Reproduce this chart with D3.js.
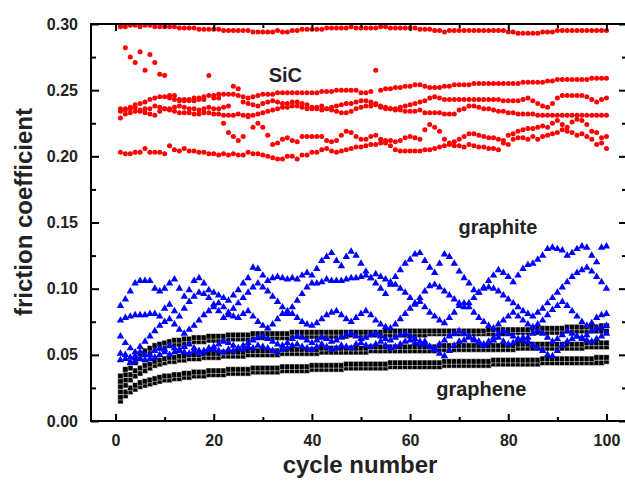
<!DOCTYPE html>
<html>
<head>
<meta charset="utf-8">
<script src="https://cdn.jsdelivr.net/npm/d3@7"></script>
<style>
  body { margin: 0; background: #fff; }
  text { font-family: "Liberation Sans", Arial, sans-serif; }
</style>
</head>
<body>
<svg id="chart" width="625" height="482"></svg>
<script>
// cycle numbers 1..100 (x values shared by every run)
const cycles = d3.range(1, 101);

// ---- SiC runs (red) ----
const sic1 = [
  0.299, 0.298, 0.299, 0.299, 0.298, 0.299, 0.299, 0.298, 0.298, 0.298,
  0.298, 0.298, 0.297, 0.297, 0.297, 0.297, 0.296, 0.296, 0.296, 0.296,
  0.296, 0.295, 0.295, 0.295, 0.295, 0.295, 0.295, 0.294, 0.294, 0.294,
  0.294, 0.294, 0.295, 0.294, 0.294, 0.295, 0.295, 0.296, 0.296, 0.296,
  0.296, 0.296, 0.297, 0.297, 0.297, 0.297, 0.297, 0.298, 0.297, 0.297,
  0.297, 0.297, 0.297, 0.298, 0.298, 0.297, 0.297, 0.297, 0.297, 0.297,
  0.297, 0.296, 0.296, 0.296, 0.295, 0.295, 0.294, 0.295, 0.295, 0.295,
  0.295, 0.295, 0.295, 0.295, 0.295, 0.295, 0.295, 0.295, 0.295, 0.294,
  0.294, 0.293, 0.293, 0.293, 0.293, 0.293, 0.294, 0.294, 0.294, 0.295,
  0.295, 0.295, 0.295, 0.295, 0.295, 0.295, 0.295, 0.295, 0.295, 0.295];
const sic2 = [
  0.234, 0.236, 0.237, 0.239, 0.240, 0.241, 0.243, 0.244, 0.245, 0.245,
  0.246, 0.246, 0.243, 0.243, 0.243, 0.244, 0.244, 0.245, 0.246, 0.246,
  0.247, 0.247, 0.247, 0.247, 0.246, 0.245, 0.244, 0.245, 0.246, 0.247,
  0.247, 0.247, 0.248, 0.248, 0.248, 0.248, 0.248, 0.248, 0.248, 0.248,
  0.248, 0.249, 0.249, 0.249, 0.250, 0.250, 0.250, 0.250, 0.250, 0.248,
  0.248, 0.249, 0.265, 0.250, 0.251, 0.251, 0.252, 0.252, 0.253, 0.253,
  0.254, 0.254, 0.253, 0.252, 0.252, 0.252, 0.253, 0.253, 0.254, 0.254,
  0.254, 0.254, 0.255, 0.255, 0.255, 0.255, 0.255, 0.255, 0.255, 0.255,
  0.255, 0.255, 0.256, 0.256, 0.256, 0.256, 0.256, 0.257, 0.257, 0.258,
  0.258, 0.258, 0.258, 0.258, 0.258, 0.258, 0.259, 0.259, 0.259, 0.259];
const sic3 = [
  0.236, 0.235, 0.236, 0.237, 0.234, 0.233, 0.236, 0.238, 0.237, 0.236,
  0.235, 0.237, 0.238, 0.237, 0.236, 0.236, 0.235, 0.236, 0.237, 0.236,
  0.236, 0.237, 0.238, 0.253, 0.251, 0.241, 0.240, 0.239, 0.238, 0.240,
  0.241, 0.242, 0.241, 0.240, 0.240, 0.241, 0.241, 0.240, 0.239, 0.237,
  0.236, 0.235, 0.236, 0.237, 0.238, 0.239, 0.240, 0.240, 0.241, 0.242,
  0.242, 0.241, 0.240, 0.238, 0.237, 0.236, 0.236, 0.237, 0.238, 0.239,
  0.240, 0.241, 0.242, 0.244, 0.245, 0.244, 0.243, 0.243, 0.243, 0.243,
  0.243, 0.243, 0.243, 0.243, 0.243, 0.243, 0.243, 0.243, 0.242, 0.242,
  0.242, 0.242, 0.243, 0.244, 0.242, 0.240, 0.238, 0.237, 0.240, 0.244,
  0.246, 0.246, 0.246, 0.246, 0.246, 0.245, 0.243, 0.241, 0.243, 0.244];
const sic4 = [
  0.229, 0.232, 0.233, 0.234, 0.235, 0.236, 0.232, 0.231, 0.234, 0.236,
  0.236, 0.234, 0.233, 0.233, 0.233, 0.232, 0.232, 0.233, 0.233, 0.232,
  0.232, 0.231, 0.231, 0.231, 0.232, 0.231, 0.231, 0.231, 0.232, 0.233,
  0.234, 0.235, 0.236, 0.237, 0.237, 0.238, 0.238, 0.237, 0.236, 0.236,
  0.237, 0.238, 0.236, 0.235, 0.234, 0.233, 0.233, 0.234, 0.236, 0.237,
  0.238, 0.238, 0.239, 0.237, 0.236, 0.236, 0.235, 0.235, 0.234, 0.234,
  0.234, 0.235, 0.233, 0.233, 0.233, 0.233, 0.232, 0.232, 0.232, 0.235,
  0.236, 0.238, 0.238, 0.237, 0.236, 0.236, 0.235, 0.234, 0.234, 0.233,
  0.233, 0.232, 0.232, 0.232, 0.232, 0.231, 0.231, 0.231, 0.231, 0.231,
  0.231, 0.231, 0.231, 0.231, 0.231, 0.231, 0.231, 0.231, 0.231, 0.231];
const sic5 = [
  0.298, 0.282, 0.275, 0.271, 0.279, 0.265, 0.277, 0.271, 0.262, 0.261,
  0.244, 0.243, 0.242, 0.242, 0.242, 0.242, 0.243, 0.243, 0.261, 0.244,
  0.244, 0.225, 0.218, 0.215, 0.212, 0.215, 0.230, 0.222, 0.225, 0.222,
  0.216, 0.209, 0.210, 0.213, 0.214, 0.212, 0.211, 0.215, 0.215, 0.215,
  0.215, 0.215, 0.212, 0.211, 0.212, 0.216, 0.219, 0.218, 0.215, 0.213,
  0.213, 0.215, 0.216, 0.213, 0.212, 0.212, 0.211, 0.212, 0.214, 0.215,
  0.214, 0.213, 0.220, 0.224, 0.222, 0.219, 0.213, 0.210, 0.211, 0.213,
  0.215, 0.217, 0.217, 0.216, 0.215, 0.214, 0.214, 0.213, 0.212, 0.216,
  0.217, 0.219, 0.220, 0.221, 0.221, 0.222, 0.223, 0.222, 0.225, 0.227,
  0.224, 0.222, 0.226, 0.228, 0.227, 0.224, 0.219, 0.218, 0.214, 0.215];
const sic6 = [
  0.203, 0.202, 0.202, 0.203, 0.203, 0.206, 0.203, 0.203, 0.203, 0.202,
  0.208, 0.205, 0.204, 0.206, 0.204, 0.204, 0.203, 0.203, 0.202, 0.202,
  0.201, 0.202, 0.201, 0.202, 0.201, 0.201, 0.203, 0.202, 0.202, 0.201,
  0.200, 0.199, 0.198, 0.198, 0.200, 0.200, 0.198, 0.201, 0.201, 0.203,
  0.203, 0.205, 0.206, 0.204, 0.203, 0.204, 0.205, 0.206, 0.207, 0.207,
  0.208, 0.209, 0.209, 0.210, 0.210, 0.208, 0.205, 0.204, 0.204, 0.204,
  0.204, 0.204, 0.205, 0.205, 0.206, 0.207, 0.208, 0.209, 0.208, 0.208,
  0.207, 0.209, 0.208, 0.207, 0.207, 0.206, 0.206, 0.205, 0.210, 0.209,
  0.213, 0.214, 0.214, 0.213, 0.215, 0.213, 0.215, 0.216, 0.217, 0.218,
  0.220, 0.219, 0.218, 0.216, 0.217, 0.215, 0.213, 0.209, 0.210, 0.206];

// ---- graphite runs (blue) ----
const gpt1 = [
  0.087, 0.092, 0.098, 0.104, 0.106, 0.106, 0.106, 0.100, 0.098, 0.100,
  0.104, 0.107, 0.100, 0.094, 0.099, 0.106, 0.108, 0.104, 0.099, 0.097,
  0.095, 0.093, 0.091, 0.095, 0.099, 0.104, 0.108, 0.116, 0.115, 0.110,
  0.106, 0.108, 0.109, 0.108, 0.107, 0.108, 0.107, 0.110, 0.112, 0.110,
  0.115, 0.121, 0.124, 0.127, 0.121, 0.117, 0.124, 0.128, 0.125, 0.119,
  0.113, 0.108, 0.104, 0.100, 0.096, 0.103, 0.109, 0.114, 0.119, 0.122,
  0.126, 0.127, 0.121, 0.116, 0.112, 0.119, 0.126, 0.124, 0.119, 0.113,
  0.108, 0.104, 0.099, 0.097, 0.101, 0.106, 0.110, 0.114, 0.112, 0.109,
  0.105, 0.110, 0.115, 0.118, 0.119, 0.122, 0.125, 0.130, 0.131, 0.130,
  0.129, 0.125, 0.127, 0.130, 0.132, 0.131, 0.125, 0.120, 0.131, 0.132];
const gpt2 = [
  0.076, 0.078, 0.079, 0.080, 0.080, 0.080, 0.081, 0.081, 0.079, 0.085,
  0.088, 0.083, 0.079, 0.085, 0.090, 0.094, 0.097, 0.096, 0.093, 0.088,
  0.083, 0.078, 0.080, 0.085, 0.089, 0.093, 0.097, 0.101, 0.104, 0.101,
  0.098, 0.094, 0.090, 0.086, 0.081, 0.086, 0.091, 0.096, 0.101, 0.104,
  0.104, 0.105, 0.107, 0.106, 0.106, 0.106, 0.107, 0.108, 0.108, 0.109,
  0.110, 0.108, 0.111, 0.109, 0.107, 0.105, 0.103, 0.100, 0.097, 0.093,
  0.089, 0.093, 0.098, 0.102, 0.103, 0.101, 0.098, 0.095, 0.092, 0.089,
  0.086, 0.089, 0.093, 0.097, 0.100, 0.101, 0.100, 0.098, 0.095, 0.092,
  0.089, 0.086, 0.083, 0.081, 0.079, 0.082, 0.085, 0.089, 0.093, 0.097,
  0.101, 0.105, 0.109, 0.112, 0.114, 0.116, 0.113, 0.109, 0.105, 0.100];
const gpt3 = [
  0.064, 0.059, 0.055, 0.052, 0.056, 0.060, 0.064, 0.068, 0.072, 0.075,
  0.077, 0.073, 0.069, 0.066, 0.069, 0.072, 0.076, 0.080, 0.083, 0.086,
  0.089, 0.086, 0.082, 0.079, 0.078, 0.081, 0.083, 0.079, 0.075, 0.072,
  0.070, 0.073, 0.077, 0.081, 0.083, 0.081, 0.078, 0.075, 0.073, 0.072,
  0.074, 0.077, 0.080, 0.082, 0.083, 0.080, 0.077, 0.075, 0.078, 0.081,
  0.083, 0.080, 0.076, 0.073, 0.071, 0.070, 0.073, 0.077, 0.081, 0.085,
  0.088, 0.090, 0.086, 0.082, 0.079, 0.076, 0.074, 0.078, 0.082, 0.087,
  0.089, 0.086, 0.082, 0.078, 0.075, 0.072, 0.070, 0.073, 0.076, 0.079,
  0.082, 0.079, 0.076, 0.073, 0.071, 0.073, 0.076, 0.080, 0.084, 0.087,
  0.090, 0.087, 0.083, 0.079, 0.075, 0.072, 0.074, 0.078, 0.080, 0.081];
const gpt4 = [
  0.051, 0.047, 0.044, 0.049, 0.052, 0.046, 0.050, 0.053, 0.055, 0.054,
  0.057, 0.055, 0.053, 0.056, 0.058, 0.055, 0.053, 0.052, 0.054, 0.056,
  0.058, 0.060, 0.059, 0.057, 0.055, 0.057, 0.059, 0.061, 0.063, 0.064,
  0.062, 0.060, 0.058, 0.057, 0.059, 0.062, 0.064, 0.063, 0.061, 0.059,
  0.061, 0.063, 0.062, 0.060, 0.061, 0.063, 0.065, 0.066, 0.064, 0.062,
  0.063, 0.065, 0.066, 0.064, 0.062, 0.061, 0.063, 0.065, 0.066, 0.064,
  0.062, 0.060, 0.058, 0.056, 0.055, 0.058, 0.061, 0.064, 0.066, 0.068,
  0.066, 0.064, 0.062, 0.060, 0.058, 0.060, 0.063, 0.066, 0.068, 0.066,
  0.064, 0.062, 0.061, 0.063, 0.066, 0.068, 0.066, 0.063, 0.060, 0.062,
  0.065, 0.068, 0.066, 0.064, 0.062, 0.065, 0.068, 0.070, 0.070, 0.072];
const gpt5 = [
  0.046, 0.050, 0.048, 0.045, 0.047, 0.050, 0.047, 0.048, 0.050, 0.052,
  0.050, 0.052, 0.054, 0.052, 0.051, 0.053, 0.051, 0.053, 0.055, 0.054,
  0.053, 0.052, 0.054, 0.053, 0.055, 0.054, 0.056, 0.055, 0.057, 0.056,
  0.055, 0.053, 0.052, 0.054, 0.055, 0.057, 0.058, 0.056, 0.055, 0.054,
  0.056, 0.058, 0.056, 0.054, 0.055, 0.057, 0.056, 0.055, 0.058, 0.059,
  0.057, 0.056, 0.058, 0.060, 0.057, 0.055, 0.056, 0.058, 0.060, 0.061,
  0.059, 0.058, 0.060, 0.056, 0.054, 0.051, 0.049, 0.053, 0.057, 0.060,
  0.061, 0.063, 0.061, 0.059, 0.057, 0.059, 0.061, 0.063, 0.060, 0.058,
  0.059, 0.061, 0.063, 0.060, 0.057, 0.055, 0.053, 0.050, 0.049, 0.053,
  0.057, 0.060, 0.062, 0.064, 0.063, 0.061, 0.060, 0.062, 0.064, 0.066];

// ---- graphene runs (black) ----
const gph1 = [
  0.015, 0.019, 0.022, 0.024, 0.026, 0.027, 0.028, 0.029, 0.030, 0.031,
  0.031, 0.032, 0.032, 0.033, 0.033, 0.034, 0.034, 0.034, 0.035, 0.035,
  0.035, 0.035, 0.036, 0.036, 0.036, 0.036, 0.036, 0.037, 0.037, 0.037,
  0.037, 0.037, 0.037, 0.038, 0.038, 0.038, 0.038, 0.038, 0.038, 0.039,
  0.039, 0.039, 0.039, 0.039, 0.039, 0.039, 0.040, 0.040, 0.040, 0.040,
  0.040, 0.040, 0.040, 0.040, 0.040, 0.041, 0.041, 0.041, 0.041, 0.041,
  0.041, 0.041, 0.041, 0.041, 0.041, 0.041, 0.042, 0.042, 0.042, 0.042,
  0.042, 0.042, 0.042, 0.042, 0.042, 0.042, 0.043, 0.043, 0.043, 0.043,
  0.043, 0.043, 0.043, 0.043, 0.043, 0.043, 0.044, 0.044, 0.044, 0.044,
  0.044, 0.044, 0.044, 0.044, 0.044, 0.044, 0.044, 0.044, 0.044, 0.045];
const gph2 = [
  0.018, 0.022, 0.025, 0.027, 0.029, 0.030, 0.031, 0.032, 0.033, 0.034,
  0.034, 0.035, 0.035, 0.036, 0.036, 0.037, 0.037, 0.037, 0.038, 0.038,
  0.038, 0.038, 0.039, 0.039, 0.039, 0.039, 0.039, 0.040, 0.040, 0.040,
  0.040, 0.040, 0.040, 0.041, 0.041, 0.041, 0.041, 0.041, 0.041, 0.042,
  0.042, 0.042, 0.042, 0.042, 0.042, 0.042, 0.043, 0.043, 0.043, 0.043,
  0.043, 0.043, 0.043, 0.043, 0.043, 0.044, 0.044, 0.044, 0.044, 0.044,
  0.044, 0.044, 0.044, 0.044, 0.044, 0.044, 0.045, 0.045, 0.045, 0.045,
  0.045, 0.045, 0.045, 0.045, 0.045, 0.045, 0.046, 0.046, 0.046, 0.046,
  0.046, 0.046, 0.046, 0.046, 0.046, 0.046, 0.047, 0.047, 0.047, 0.047,
  0.047, 0.047, 0.047, 0.047, 0.047, 0.047, 0.047, 0.048, 0.048, 0.048];
const gph3 = [
  0.022, 0.027, 0.031, 0.034, 0.036, 0.038, 0.040, 0.042, 0.043, 0.044,
  0.045, 0.045, 0.046, 0.046, 0.047, 0.047, 0.047, 0.048, 0.048, 0.048,
  0.048, 0.049, 0.049, 0.049, 0.049, 0.049, 0.050, 0.050, 0.050, 0.050,
  0.050, 0.050, 0.050, 0.051, 0.051, 0.051, 0.051, 0.051, 0.051, 0.051,
  0.051, 0.052, 0.052, 0.052, 0.052, 0.052, 0.052, 0.052, 0.052, 0.052,
  0.052, 0.053, 0.053, 0.053, 0.053, 0.053, 0.053, 0.053, 0.053, 0.053,
  0.053, 0.053, 0.053, 0.053, 0.053, 0.054, 0.054, 0.054, 0.054, 0.054,
  0.054, 0.054, 0.054, 0.054, 0.054, 0.054, 0.054, 0.054, 0.054, 0.054,
  0.054, 0.055, 0.055, 0.055, 0.055, 0.055, 0.055, 0.055, 0.055, 0.055,
  0.055, 0.055, 0.055, 0.055, 0.055, 0.056, 0.056, 0.056, 0.056, 0.056];
const gph4 = [
  0.026, 0.031, 0.035, 0.038, 0.040, 0.042, 0.043, 0.045, 0.046, 0.047,
  0.048, 0.048, 0.049, 0.049, 0.050, 0.050, 0.050, 0.051, 0.051, 0.051,
  0.051, 0.052, 0.052, 0.052, 0.052, 0.052, 0.053, 0.053, 0.053, 0.053,
  0.053, 0.053, 0.053, 0.054, 0.054, 0.054, 0.054, 0.054, 0.054, 0.054,
  0.054, 0.055, 0.055, 0.055, 0.055, 0.055, 0.055, 0.055, 0.055, 0.055,
  0.055, 0.056, 0.056, 0.056, 0.056, 0.056, 0.056, 0.056, 0.056, 0.056,
  0.056, 0.056, 0.056, 0.056, 0.056, 0.057, 0.057, 0.057, 0.057, 0.057,
  0.057, 0.057, 0.057, 0.057, 0.057, 0.057, 0.057, 0.057, 0.057, 0.057,
  0.057, 0.058, 0.058, 0.058, 0.058, 0.058, 0.058, 0.058, 0.058, 0.058,
  0.058, 0.058, 0.058, 0.058, 0.058, 0.059, 0.059, 0.059, 0.059, 0.059];
const gph5 = [
  0.030, 0.035, 0.040, 0.044, 0.047, 0.050, 0.052, 0.054, 0.055, 0.056,
  0.057, 0.058, 0.058, 0.059, 0.059, 0.060, 0.060, 0.060, 0.061, 0.061,
  0.061, 0.061, 0.062, 0.062, 0.062, 0.062, 0.062, 0.063, 0.063, 0.063,
  0.063, 0.063, 0.063, 0.063, 0.063, 0.064, 0.064, 0.064, 0.064, 0.064,
  0.064, 0.064, 0.064, 0.064, 0.064, 0.064, 0.064, 0.065, 0.065, 0.065,
  0.065, 0.065, 0.065, 0.065, 0.065, 0.065, 0.065, 0.065, 0.065, 0.065,
  0.065, 0.065, 0.065, 0.066, 0.066, 0.066, 0.066, 0.066, 0.066, 0.066,
  0.066, 0.066, 0.066, 0.066, 0.066, 0.066, 0.066, 0.066, 0.066, 0.066,
  0.067, 0.067, 0.067, 0.067, 0.067, 0.067, 0.067, 0.067, 0.067, 0.067,
  0.067, 0.068, 0.068, 0.068, 0.068, 0.068, 0.068, 0.068, 0.068, 0.068];
const gph6 = [
  0.034, 0.039, 0.044, 0.048, 0.051, 0.053, 0.055, 0.057, 0.058, 0.059,
  0.060, 0.061, 0.061, 0.062, 0.062, 0.063, 0.063, 0.063, 0.064, 0.064,
  0.064, 0.064, 0.065, 0.065, 0.065, 0.065, 0.065, 0.066, 0.066, 0.066,
  0.066, 0.066, 0.066, 0.066, 0.066, 0.067, 0.067, 0.067, 0.067, 0.067,
  0.067, 0.067, 0.067, 0.067, 0.067, 0.067, 0.067, 0.067, 0.067, 0.067,
  0.067, 0.067, 0.067, 0.067, 0.068, 0.068, 0.068, 0.068, 0.068, 0.068,
  0.068, 0.068, 0.068, 0.068, 0.068, 0.068, 0.068, 0.068, 0.068, 0.068,
  0.068, 0.068, 0.068, 0.068, 0.068, 0.069, 0.069, 0.069, 0.069, 0.069,
  0.069, 0.069, 0.069, 0.069, 0.070, 0.070, 0.070, 0.070, 0.070, 0.070,
  0.070, 0.071, 0.071, 0.071, 0.071, 0.071, 0.071, 0.071, 0.072, 0.072];

const sicRuns = [sic1, sic2, sic3, sic4, sic5, sic6];
const graphiteRuns = [gpt1, gpt2, gpt3, gpt4, gpt5];
const grapheneRuns = [gph1, gph2, gph3, gph4, gph5, gph6];

const xMajor = [0, 20, 40, 60, 80, 100];
const xMinor = [10, 30, 50, 70, 90];
const yMajor = [0, 0.05, 0.10, 0.15, 0.20, 0.25, 0.30];
const yMinor = [0.025, 0.075, 0.125, 0.175, 0.225, 0.275];

const svg = d3.select("#chart");

// plot frame: left 91, right just past the window, top 24, bottom 421
const x = d3.scaleLinear().domain([-5, 105]).range([91, 631]);
const y = d3.scaleLinear().domain([0, 0.30]).range([421, 24]);
const frameRight = 627;

// turn a run into points
function pts(run) {
  return run.map((v, i) => ({ c: cycles[i], v: v }));
}

// SiC - red dots
const gSic = svg.append("g");
sicRuns.forEach(run => {
  gSic.selectAll(null)
    .data(pts(run))
    .enter()
    .append("circle")
    .attr("cx", d => x(d.c))
    .attr("cy", d => y(d.v))
    .attr("r", 2.5)
    .attr("fill", "#ff0000");
});

// graphene - black squares
const square = d3.symbol().type(d3.symbolSquare).size(30);
const gGph = svg.append("g");
grapheneRuns.forEach(run => {
  gGph.selectAll(null)
    .data(pts(run))
    .enter()
    .append("path")
    .attr("d", square)
    .attr("transform", d => "translate(" + x(d.c) + "," + y(d.v) + ")")
    .attr("fill", "#000")
    .attr("stroke", "#fff")
    .attr("stroke-width", 0.5);
});

// graphite - blue triangles
const tri = d3.symbol().type(d3.symbolTriangle).size(24);
const gGpt = svg.append("g");
graphiteRuns.forEach(run => {
  gGpt.selectAll(null)
    .data(pts(run))
    .enter()
    .append("path")
    .attr("d", tri)
    .attr("transform", d => "translate(" + x(d.c) + "," + y(d.v) + ")")
    .attr("fill", "#0000ff");
});

// ---- axes ----
function styleAxis(g) {
  g.selectAll(".domain").remove();
  g.selectAll(".tick line").attr("stroke", "#000").attr("stroke-width", 2);
  g.selectAll(".tick text")
    .attr("fill", "#222")
    .style("font-size", "16px")
    .style("font-weight", "bold");
}

svg.append("g")
  .attr("transform", "translate(0,421)")
  .call(d3.axisBottom(x).tickValues(xMajor).tickSize(-7).tickPadding(14).tickFormat(d3.format("d")))
  .call(styleAxis);
svg.append("g")
  .attr("transform", "translate(0,421)")
  .call(d3.axisBottom(x).tickValues(xMinor).tickSize(-4).tickFormat(""))
  .call(styleAxis);

svg.append("g")
  .attr("transform", "translate(0,24)")
  .call(d3.axisTop(x).tickValues(xMajor).tickSize(-7).tickFormat(""))
  .call(styleAxis);
svg.append("g")
  .attr("transform", "translate(0,24)")
  .call(d3.axisTop(x).tickValues(xMinor).tickSize(-4).tickFormat(""))
  .call(styleAxis);

svg.append("g")
  .attr("transform", "translate(91,0)")
  .call(d3.axisLeft(y).tickValues(yMajor).tickSize(-8).tickPadding(13).tickFormat(d3.format(".2f")))
  .call(styleAxis);
svg.append("g")
  .attr("transform", "translate(91,0)")
  .call(d3.axisLeft(y).tickValues(yMinor).tickSize(-5).tickFormat(""))
  .call(styleAxis);

svg.append("g")
  .attr("transform", "translate(" + frameRight + ",0)")
  .call(d3.axisRight(y).tickValues(yMajor).tickSize(-8).tickFormat(""))
  .call(styleAxis);
svg.append("g")
  .attr("transform", "translate(" + frameRight + ",0)")
  .call(d3.axisRight(y).tickValues(yMinor).tickSize(-5).tickFormat(""))
  .call(styleAxis);

// frame
svg.append("rect")
  .attr("x", 91)
  .attr("y", 24)
  .attr("width", frameRight - 91)
  .attr("height", 421 - 24)
  .attr("fill", "none")
  .attr("stroke", "#000")
  .attr("stroke-width", 2);

// titles
svg.append("text")
  .attr("x", 360)
  .attr("y", 473)
  .attr("text-anchor", "middle")
  .style("font-size", "24px")
  .style("font-weight", "bold")
  .attr("fill", "#222")
  .text("cycle number");

svg.append("text")
  .attr("transform", "translate(32,212) rotate(-90)")
  .attr("text-anchor", "middle")
  .style("font-size", "24px")
  .style("font-weight", "bold")
  .attr("fill", "#222")
  .text("friction coefficient");

// material labels
const labels = [
  { t: "SiC", c: 34.6, v: 0.2562 },
  { t: "graphite", c: 77.9, v: 0.1413 },
  { t: "graphene", c: 74.5, v: 0.0189 }
];
svg.selectAll(null)
  .data(labels)
  .enter()
  .append("text")
  .attr("x", d => x(d.c))
  .attr("y", d => y(d.v))
  .attr("text-anchor", "middle")
  .style("font-size", "20px")
  .style("font-weight", "bold")
  .attr("fill", "#222")
  .text(d => d.t);
</script>
</body>
</html>
